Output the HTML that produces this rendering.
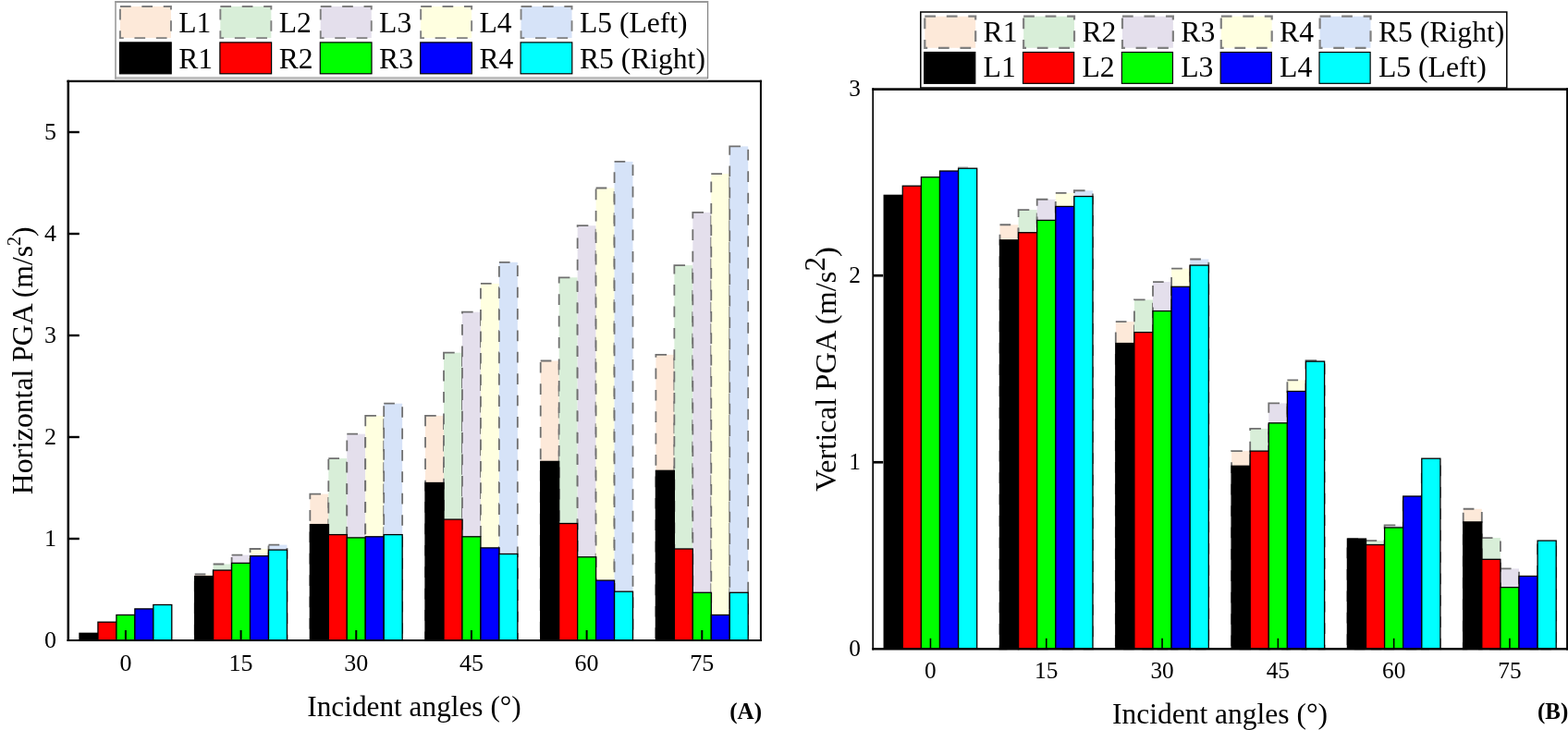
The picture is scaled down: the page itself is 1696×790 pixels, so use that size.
<!DOCTYPE html>
<html lang="en">
<head>
<meta charset="utf-8">
<title>PGA versus incident angles</title>
<style>
html,body{margin:0;padding:0;background:#fff;}
body{width:1696px;height:790px;overflow:hidden;font-family:"Liberation Serif", serif;}
svg{display:block;}
</style>
</head>
<body>
<svg width="1696" height="790" viewBox="0 0 1696 790" font-family="'Liberation Serif', serif" fill="#000">
<rect width="1696" height="790" fill="#fff"/>
<g>
<rect x="210.68" y="621.50" width="19.96" height="71.50" fill="#FDE9D9" stroke="#707070" stroke-width="1.8" stroke-dasharray="11.7 11.7"/>
<rect x="230.64" y="610.50" width="19.96" height="82.50" fill="#D8EED8" stroke="#707070" stroke-width="1.8" stroke-dasharray="11.7 11.7"/>
<rect x="250.60" y="600.60" width="19.96" height="92.40" fill="#E4DFEC" stroke="#707070" stroke-width="1.8" stroke-dasharray="11.7 11.7"/>
<rect x="270.56" y="594.00" width="19.96" height="99.00" fill="#FFFFE0" stroke="#707070" stroke-width="1.8" stroke-dasharray="11.7 11.7"/>
<rect x="290.52" y="589.60" width="19.96" height="103.40" fill="#D6E3F8" stroke="#707070" stroke-width="1.8" stroke-dasharray="11.7 11.7"/>
<rect x="335.36" y="534.60" width="19.96" height="158.40" fill="#FDE9D9" stroke="#707070" stroke-width="1.8" stroke-dasharray="11.7 11.7"/>
<rect x="355.32" y="496.10" width="19.96" height="196.90" fill="#D8EED8" stroke="#707070" stroke-width="1.8" stroke-dasharray="11.7 11.7"/>
<rect x="375.28" y="469.70" width="19.96" height="223.30" fill="#E4DFEC" stroke="#707070" stroke-width="1.8" stroke-dasharray="11.7 11.7"/>
<rect x="395.24" y="449.90" width="19.96" height="243.10" fill="#FFFFE0" stroke="#707070" stroke-width="1.8" stroke-dasharray="11.7 11.7"/>
<rect x="415.20" y="436.70" width="19.96" height="256.30" fill="#D6E3F8" stroke="#707070" stroke-width="1.8" stroke-dasharray="11.7 11.7"/>
<rect x="460.04" y="449.90" width="19.96" height="243.10" fill="#FDE9D9" stroke="#707070" stroke-width="1.8" stroke-dasharray="11.7 11.7"/>
<rect x="480.00" y="381.70" width="19.96" height="311.30" fill="#D8EED8" stroke="#707070" stroke-width="1.8" stroke-dasharray="11.7 11.7"/>
<rect x="499.96" y="337.70" width="19.96" height="355.30" fill="#E4DFEC" stroke="#707070" stroke-width="1.8" stroke-dasharray="11.7 11.7"/>
<rect x="519.92" y="306.90" width="19.96" height="386.10" fill="#FFFFE0" stroke="#707070" stroke-width="1.8" stroke-dasharray="11.7 11.7"/>
<rect x="539.88" y="283.80" width="19.96" height="409.20" fill="#D6E3F8" stroke="#707070" stroke-width="1.8" stroke-dasharray="11.7 11.7"/>
<rect x="584.72" y="390.50" width="19.96" height="302.50" fill="#FDE9D9" stroke="#707070" stroke-width="1.8" stroke-dasharray="11.7 11.7"/>
<rect x="604.68" y="300.30" width="19.96" height="392.70" fill="#D8EED8" stroke="#707070" stroke-width="1.8" stroke-dasharray="11.7 11.7"/>
<rect x="624.64" y="244.20" width="19.96" height="448.80" fill="#E4DFEC" stroke="#707070" stroke-width="1.8" stroke-dasharray="11.7 11.7"/>
<rect x="644.60" y="203.50" width="19.96" height="489.50" fill="#FFFFE0" stroke="#707070" stroke-width="1.8" stroke-dasharray="11.7 11.7"/>
<rect x="664.56" y="174.90" width="19.96" height="518.10" fill="#D6E3F8" stroke="#707070" stroke-width="1.8" stroke-dasharray="11.7 11.7"/>
<rect x="709.40" y="383.90" width="19.96" height="309.10" fill="#FDE9D9" stroke="#707070" stroke-width="1.8" stroke-dasharray="11.7 11.7"/>
<rect x="729.36" y="287.10" width="19.96" height="405.90" fill="#D8EED8" stroke="#707070" stroke-width="1.8" stroke-dasharray="11.7 11.7"/>
<rect x="749.32" y="229.90" width="19.96" height="463.10" fill="#E4DFEC" stroke="#707070" stroke-width="1.8" stroke-dasharray="11.7 11.7"/>
<rect x="769.28" y="188.10" width="19.96" height="504.90" fill="#FFFFE0" stroke="#707070" stroke-width="1.8" stroke-dasharray="11.7 11.7"/>
<rect x="789.24" y="158.40" width="19.96" height="534.60" fill="#D6E3F8" stroke="#707070" stroke-width="1.8" stroke-dasharray="11.7 11.7"/>
<rect x="86.00" y="685.30" width="19.96" height="7.70" fill="#000000" stroke="#000" stroke-width="1.3"/>
<rect x="105.96" y="673.20" width="19.96" height="19.80" fill="#FF0000" stroke="#000" stroke-width="1.3"/>
<rect x="125.92" y="665.50" width="19.96" height="27.50" fill="#00FF00" stroke="#000" stroke-width="1.3"/>
<rect x="145.88" y="658.90" width="19.96" height="34.10" fill="#0000FF" stroke="#000" stroke-width="1.3"/>
<rect x="165.84" y="654.50" width="19.96" height="38.50" fill="#00FFFF" stroke="#000" stroke-width="1.3"/>
<rect x="210.68" y="623.70" width="19.96" height="69.30" fill="#000000" stroke="#000" stroke-width="1.3"/>
<rect x="230.64" y="617.10" width="19.96" height="75.90" fill="#FF0000" stroke="#000" stroke-width="1.3"/>
<rect x="250.60" y="609.40" width="19.96" height="83.60" fill="#00FF00" stroke="#000" stroke-width="1.3"/>
<rect x="270.56" y="601.70" width="19.96" height="91.30" fill="#0000FF" stroke="#000" stroke-width="1.3"/>
<rect x="290.52" y="595.10" width="19.96" height="97.90" fill="#00FFFF" stroke="#000" stroke-width="1.3"/>
<rect x="335.36" y="567.60" width="19.96" height="125.40" fill="#000000" stroke="#000" stroke-width="1.3"/>
<rect x="355.32" y="578.60" width="19.96" height="114.40" fill="#FF0000" stroke="#000" stroke-width="1.3"/>
<rect x="375.28" y="581.90" width="19.96" height="111.10" fill="#00FF00" stroke="#000" stroke-width="1.3"/>
<rect x="395.24" y="580.80" width="19.96" height="112.20" fill="#0000FF" stroke="#000" stroke-width="1.3"/>
<rect x="415.20" y="578.60" width="19.96" height="114.40" fill="#00FFFF" stroke="#000" stroke-width="1.3"/>
<rect x="460.04" y="522.50" width="19.96" height="170.50" fill="#000000" stroke="#000" stroke-width="1.3"/>
<rect x="480.00" y="562.10" width="19.96" height="130.90" fill="#FF0000" stroke="#000" stroke-width="1.3"/>
<rect x="499.96" y="580.80" width="19.96" height="112.20" fill="#00FF00" stroke="#000" stroke-width="1.3"/>
<rect x="519.92" y="592.90" width="19.96" height="100.10" fill="#0000FF" stroke="#000" stroke-width="1.3"/>
<rect x="539.88" y="599.50" width="19.96" height="93.50" fill="#00FFFF" stroke="#000" stroke-width="1.3"/>
<rect x="584.72" y="499.40" width="19.96" height="193.60" fill="#000000" stroke="#000" stroke-width="1.3"/>
<rect x="604.68" y="566.50" width="19.96" height="126.50" fill="#FF0000" stroke="#000" stroke-width="1.3"/>
<rect x="624.64" y="602.80" width="19.96" height="90.20" fill="#00FF00" stroke="#000" stroke-width="1.3"/>
<rect x="644.60" y="628.10" width="19.96" height="64.90" fill="#0000FF" stroke="#000" stroke-width="1.3"/>
<rect x="664.56" y="640.20" width="19.96" height="52.80" fill="#00FFFF" stroke="#000" stroke-width="1.3"/>
<rect x="709.40" y="509.30" width="19.96" height="183.70" fill="#000000" stroke="#000" stroke-width="1.3"/>
<rect x="729.36" y="594.00" width="19.96" height="99.00" fill="#FF0000" stroke="#000" stroke-width="1.3"/>
<rect x="749.32" y="641.30" width="19.96" height="51.70" fill="#00FF00" stroke="#000" stroke-width="1.3"/>
<rect x="769.28" y="665.50" width="19.96" height="27.50" fill="#0000FF" stroke="#000" stroke-width="1.3"/>
<rect x="789.24" y="641.30" width="19.96" height="51.70" fill="#00FFFF" stroke="#000" stroke-width="1.3"/>
<rect x="72.55" y="86.75" width="2.5" height="607.25"/>
<rect x="72.55" y="86.75" width="751.35" height="2.3"/>
<rect x="72.55" y="692.00" width="751.35" height="2.0"/>
<rect x="821.90" y="86.75" width="2.0" height="607.25"/>
<text x="61" y="700.60" text-anchor="end" font-size="26">0</text>
<line x1="73.8" y1="583.00" x2="85.8" y2="583.00" stroke="#000" stroke-width="2.4"/>
<text x="61" y="590.60" text-anchor="end" font-size="26">1</text>
<line x1="73.8" y1="473.00" x2="85.8" y2="473.00" stroke="#000" stroke-width="2.4"/>
<text x="61" y="480.60" text-anchor="end" font-size="26">2</text>
<line x1="73.8" y1="363.00" x2="85.8" y2="363.00" stroke="#000" stroke-width="2.4"/>
<text x="61" y="370.60" text-anchor="end" font-size="26">3</text>
<line x1="73.8" y1="253.00" x2="85.8" y2="253.00" stroke="#000" stroke-width="2.4"/>
<text x="61" y="260.60" text-anchor="end" font-size="26">4</text>
<line x1="73.8" y1="143.00" x2="85.8" y2="143.00" stroke="#000" stroke-width="2.4"/>
<text x="61" y="150.60" text-anchor="end" font-size="26">5</text>
<line x1="135.90" y1="693.0" x2="135.90" y2="682.0" stroke="#000" stroke-width="2.0"/>
<text x="135.90" y="725.8" text-anchor="middle" font-size="26">0</text>
<line x1="260.58" y1="693.0" x2="260.58" y2="682.0" stroke="#000" stroke-width="2.0"/>
<text x="260.58" y="725.8" text-anchor="middle" font-size="26">15</text>
<line x1="385.26" y1="693.0" x2="385.26" y2="682.0" stroke="#000" stroke-width="2.0"/>
<text x="385.26" y="725.8" text-anchor="middle" font-size="26">30</text>
<line x1="509.94" y1="693.0" x2="509.94" y2="682.0" stroke="#000" stroke-width="2.0"/>
<text x="509.94" y="725.8" text-anchor="middle" font-size="26">45</text>
<line x1="634.62" y1="693.0" x2="634.62" y2="682.0" stroke="#000" stroke-width="2.0"/>
<text x="634.62" y="725.8" text-anchor="middle" font-size="26">60</text>
<line x1="759.30" y1="693.0" x2="759.30" y2="682.0" stroke="#000" stroke-width="2.0"/>
<text x="759.30" y="725.8" text-anchor="middle" font-size="26">75</text>
<text x="448" y="774.5" text-anchor="middle" font-size="31.3">Incident angles (°)</text>
<text transform="translate(35.2,390.3) rotate(-90)" text-anchor="middle" font-size="31.7">Horizontal PGA (m/s<tspan font-size="20" dy="-13.5">2</tspan><tspan dy="13.5">)</tspan></text>
<text x="789.3" y="777.5" font-weight="bold" font-size="25">(A)</text>
<rect x="124.1" y="1.0" width="642.10" height="85.80" rx="1.5" fill="#fff"/>
<rect x="124.1" y="83.0" width="641.50" height="3.8" rx="1" fill="#c0c0c0"/>
<rect x="124.1" y="1.0" width="1.8" height="84.5" rx="0.8" fill="#a6a6a6"/>
<rect x="764.9" y="1.0" width="1.3" height="84.0" fill="#858585"/>
<rect x="124.1" y="1.0" width="642.10" height="2.0" rx="0.8" fill="#989898"/>
<rect x="129.95" y="6.95" width="55.00" height="34.20" fill="#FDE9D9" stroke="#808080" stroke-width="1.9" stroke-dasharray="11.7 11.7"/>
<text x="193.30" y="35" font-size="31.6">L1</text>
<rect x="238.35" y="6.95" width="55.00" height="34.20" fill="#D8EED8" stroke="#808080" stroke-width="1.9" stroke-dasharray="11.7 11.7"/>
<text x="301.70" y="35" font-size="31.6">L2</text>
<rect x="346.75" y="6.95" width="55.00" height="34.20" fill="#E4DFEC" stroke="#808080" stroke-width="1.9" stroke-dasharray="11.7 11.7"/>
<text x="410.10" y="35" font-size="31.6">L3</text>
<rect x="455.15" y="6.95" width="55.00" height="34.20" fill="#FFFFE0" stroke="#808080" stroke-width="1.9" stroke-dasharray="11.7 11.7"/>
<text x="518.50" y="35" font-size="31.6">L4</text>
<rect x="563.55" y="6.95" width="55.00" height="34.20" fill="#D6E3F8" stroke="#808080" stroke-width="1.9" stroke-dasharray="11.7 11.7"/>
<text x="626.90" y="35" font-size="31.6">L5 (Left)</text>
<rect x="129.50" y="45.90" width="55.70" height="33.90" fill="#000000" stroke="#000" stroke-width="1.2"/>
<text x="193.30" y="73.5" font-size="31.6">R1</text>
<rect x="237.90" y="45.90" width="55.70" height="33.90" fill="#FF0000" stroke="#000" stroke-width="1.2"/>
<text x="301.70" y="73.5" font-size="31.6">R2</text>
<rect x="346.30" y="45.90" width="55.70" height="33.90" fill="#00FF00" stroke="#000" stroke-width="1.2"/>
<text x="410.10" y="73.5" font-size="31.6">R3</text>
<rect x="454.70" y="45.90" width="55.70" height="33.90" fill="#0000FF" stroke="#000" stroke-width="1.2"/>
<text x="518.50" y="73.5" font-size="31.6">R4</text>
<rect x="563.10" y="45.90" width="55.70" height="33.90" fill="#00FFFF" stroke="#000" stroke-width="1.2"/>
<text x="626.90" y="73.5" font-size="31.6">R5 (Right)</text>
</g>
<g>
<rect x="1081.50" y="243.24" width="20.10" height="459.06" fill="#FDE9D9" stroke="#707070" stroke-width="1.8" stroke-dasharray="11.7 11.7"/>
<rect x="1101.60" y="227.08" width="20.10" height="475.22" fill="#D8EED8" stroke="#707070" stroke-width="1.8" stroke-dasharray="11.7 11.7"/>
<rect x="1121.70" y="215.76" width="20.10" height="486.54" fill="#E4DFEC" stroke="#707070" stroke-width="1.8" stroke-dasharray="11.7 11.7"/>
<rect x="1141.80" y="208.89" width="20.10" height="493.41" fill="#FFFFE0" stroke="#707070" stroke-width="1.8" stroke-dasharray="11.7 11.7"/>
<rect x="1161.90" y="206.27" width="20.10" height="496.03" fill="#D6E3F8" stroke="#707070" stroke-width="1.8" stroke-dasharray="11.7 11.7"/>
<rect x="1206.80" y="348.11" width="20.10" height="354.19" fill="#FDE9D9" stroke="#707070" stroke-width="1.8" stroke-dasharray="11.7 11.7"/>
<rect x="1226.90" y="324.47" width="20.10" height="377.83" fill="#D8EED8" stroke="#707070" stroke-width="1.8" stroke-dasharray="11.7 11.7"/>
<rect x="1247.00" y="305.07" width="20.10" height="397.23" fill="#E4DFEC" stroke="#707070" stroke-width="1.8" stroke-dasharray="11.7 11.7"/>
<rect x="1267.10" y="290.62" width="20.10" height="411.68" fill="#FFFFE0" stroke="#707070" stroke-width="1.8" stroke-dasharray="11.7 11.7"/>
<rect x="1287.20" y="280.52" width="20.10" height="421.78" fill="#D6E3F8" stroke="#707070" stroke-width="1.8" stroke-dasharray="11.7 11.7"/>
<rect x="1332.10" y="488.13" width="20.10" height="214.17" fill="#FDE9D9" stroke="#707070" stroke-width="1.8" stroke-dasharray="11.7 11.7"/>
<rect x="1352.20" y="463.88" width="20.10" height="238.42" fill="#D8EED8" stroke="#707070" stroke-width="1.8" stroke-dasharray="11.7 11.7"/>
<rect x="1372.30" y="436.40" width="20.10" height="265.90" fill="#E4DFEC" stroke="#707070" stroke-width="1.8" stroke-dasharray="11.7 11.7"/>
<rect x="1392.40" y="411.35" width="20.10" height="290.95" fill="#FFFFE0" stroke="#707070" stroke-width="1.8" stroke-dasharray="11.7 11.7"/>
<rect x="1412.50" y="390.13" width="20.10" height="312.17" fill="#D6E3F8" stroke="#707070" stroke-width="1.8" stroke-dasharray="11.7 11.7"/>
<rect x="1457.40" y="583.09" width="20.10" height="119.21" fill="#FDE9D9" stroke="#707070" stroke-width="1.8" stroke-dasharray="11.7 11.7"/>
<rect x="1477.50" y="585.11" width="20.10" height="117.19" fill="#D8EED8" stroke="#707070" stroke-width="1.8" stroke-dasharray="11.7 11.7"/>
<rect x="1497.60" y="568.34" width="20.10" height="133.96" fill="#E4DFEC" stroke="#707070" stroke-width="1.8" stroke-dasharray="11.7 11.7"/>
<rect x="1517.70" y="540.66" width="20.10" height="161.64" fill="#FFFFE0" stroke="#707070" stroke-width="1.8" stroke-dasharray="11.7 11.7"/>
<rect x="1537.80" y="500.25" width="20.10" height="202.05" fill="#D6E3F8" stroke="#707070" stroke-width="1.8" stroke-dasharray="11.7 11.7"/>
<rect x="1582.70" y="550.76" width="20.10" height="151.54" fill="#FDE9D9" stroke="#707070" stroke-width="1.8" stroke-dasharray="11.7 11.7"/>
<rect x="1602.80" y="582.08" width="20.10" height="120.22" fill="#D8EED8" stroke="#707070" stroke-width="1.8" stroke-dasharray="11.7 11.7"/>
<rect x="1622.90" y="615.42" width="20.10" height="86.88" fill="#E4DFEC" stroke="#707070" stroke-width="1.8" stroke-dasharray="11.7 11.7"/>
<rect x="1643.00" y="625.52" width="20.10" height="76.78" fill="#FFFFE0" stroke="#707070" stroke-width="1.8" stroke-dasharray="11.7 11.7"/>
<rect x="1663.10" y="587.13" width="20.10" height="115.17" fill="#D6E3F8" stroke="#707070" stroke-width="1.8" stroke-dasharray="11.7 11.7"/>
<rect x="956.20" y="211.32" width="20.10" height="490.98" fill="#000000" stroke="#000" stroke-width="1.3"/>
<rect x="976.30" y="201.22" width="20.10" height="501.08" fill="#FF0000" stroke="#000" stroke-width="1.3"/>
<rect x="996.40" y="191.72" width="20.10" height="510.58" fill="#00FF00" stroke="#000" stroke-width="1.3"/>
<rect x="1016.50" y="185.05" width="20.10" height="517.25" fill="#0000FF" stroke="#000" stroke-width="1.3"/>
<rect x="1036.60" y="182.22" width="20.10" height="520.08" fill="#00FFFF" stroke="#000" stroke-width="1.3"/>
<rect x="1081.50" y="259.81" width="20.10" height="442.49" fill="#000000" stroke="#000" stroke-width="1.3"/>
<rect x="1101.60" y="251.73" width="20.10" height="450.57" fill="#FF0000" stroke="#000" stroke-width="1.3"/>
<rect x="1121.70" y="238.39" width="20.10" height="463.91" fill="#00FF00" stroke="#000" stroke-width="1.3"/>
<rect x="1141.80" y="223.44" width="20.10" height="478.86" fill="#0000FF" stroke="#000" stroke-width="1.3"/>
<rect x="1161.90" y="212.53" width="20.10" height="489.77" fill="#00FFFF" stroke="#000" stroke-width="1.3"/>
<rect x="1206.80" y="371.54" width="20.10" height="330.76" fill="#000000" stroke="#000" stroke-width="1.3"/>
<rect x="1226.90" y="359.62" width="20.10" height="342.68" fill="#FF0000" stroke="#000" stroke-width="1.3"/>
<rect x="1247.00" y="336.59" width="20.10" height="365.71" fill="#00FF00" stroke="#000" stroke-width="1.3"/>
<rect x="1267.10" y="310.32" width="20.10" height="391.98" fill="#0000FF" stroke="#000" stroke-width="1.3"/>
<rect x="1287.20" y="287.09" width="20.10" height="415.21" fill="#00FFFF" stroke="#000" stroke-width="1.3"/>
<rect x="1332.10" y="504.29" width="20.10" height="198.01" fill="#000000" stroke="#000" stroke-width="1.3"/>
<rect x="1352.20" y="488.13" width="20.10" height="214.17" fill="#FF0000" stroke="#000" stroke-width="1.3"/>
<rect x="1372.30" y="457.82" width="20.10" height="244.48" fill="#00FF00" stroke="#000" stroke-width="1.3"/>
<rect x="1392.40" y="423.47" width="20.10" height="278.83" fill="#0000FF" stroke="#000" stroke-width="1.3"/>
<rect x="1412.50" y="391.14" width="20.10" height="311.16" fill="#00FFFF" stroke="#000" stroke-width="1.3"/>
<rect x="1457.40" y="583.09" width="20.10" height="119.21" fill="#000000" stroke="#000" stroke-width="1.3"/>
<rect x="1477.50" y="589.56" width="20.10" height="112.74" fill="#FF0000" stroke="#000" stroke-width="1.3"/>
<rect x="1497.60" y="570.97" width="20.10" height="131.33" fill="#00FF00" stroke="#000" stroke-width="1.3"/>
<rect x="1517.70" y="537.02" width="20.10" height="165.28" fill="#0000FF" stroke="#000" stroke-width="1.3"/>
<rect x="1537.80" y="496.21" width="20.10" height="206.09" fill="#00FFFF" stroke="#000" stroke-width="1.3"/>
<rect x="1582.70" y="564.91" width="20.10" height="137.39" fill="#000000" stroke="#000" stroke-width="1.3"/>
<rect x="1602.80" y="605.32" width="20.10" height="96.98" fill="#FF0000" stroke="#000" stroke-width="1.3"/>
<rect x="1622.90" y="635.62" width="20.10" height="66.68" fill="#00FF00" stroke="#000" stroke-width="1.3"/>
<rect x="1643.00" y="623.50" width="20.10" height="78.80" fill="#0000FF" stroke="#000" stroke-width="1.3"/>
<rect x="1663.10" y="585.11" width="20.10" height="117.19" fill="#00FFFF" stroke="#000" stroke-width="1.3"/>
<line x1="1036.00" y1="181.21" x2="1047.10" y2="181.21" stroke="#666" stroke-width="1"/>
<rect x="943.35" y="95.30" width="1.7" height="608.20"/>
<rect x="943.35" y="95.30" width="752.95" height="2.6"/>
<rect x="943.35" y="701.10" width="752.95" height="2.4"/>
<rect x="1694.10" y="95.30" width="2.2" height="608.20"/>
<text x="931.0" y="709.70" text-anchor="end" font-size="25.3">0</text>
<line x1="944.2" y1="500.25" x2="955.2" y2="500.25" stroke="#000" stroke-width="2.7"/>
<text x="931.0" y="507.65" text-anchor="end" font-size="25.3">1</text>
<line x1="944.2" y1="298.20" x2="955.2" y2="298.20" stroke="#000" stroke-width="2.7"/>
<text x="931.0" y="305.60" text-anchor="end" font-size="25.3">2</text>
<text x="931.0" y="103.55" text-anchor="end" font-size="25.3">3</text>
<line x1="1006.45" y1="702.3" x2="1006.45" y2="690.8" stroke="#000" stroke-width="1.6"/>
<text x="1006.45" y="734.3" text-anchor="middle" font-size="25.3">0</text>
<line x1="1131.75" y1="702.3" x2="1131.75" y2="690.8" stroke="#000" stroke-width="1.6"/>
<text x="1131.75" y="734.3" text-anchor="middle" font-size="25.3">15</text>
<line x1="1257.05" y1="702.3" x2="1257.05" y2="690.8" stroke="#000" stroke-width="1.6"/>
<text x="1257.05" y="734.3" text-anchor="middle" font-size="25.3">30</text>
<line x1="1382.35" y1="702.3" x2="1382.35" y2="690.8" stroke="#000" stroke-width="1.6"/>
<text x="1382.35" y="734.3" text-anchor="middle" font-size="25.3">45</text>
<line x1="1507.65" y1="702.3" x2="1507.65" y2="690.8" stroke="#000" stroke-width="1.6"/>
<text x="1507.65" y="734.3" text-anchor="middle" font-size="25.3">60</text>
<line x1="1632.95" y1="702.3" x2="1632.95" y2="690.8" stroke="#000" stroke-width="1.6"/>
<text x="1632.95" y="734.3" text-anchor="middle" font-size="25.3">75</text>
<text x="1319.5" y="782.8" text-anchor="middle" font-size="31.5">Incident angles (°)</text>
<text transform="translate(903.9,399.5) rotate(-90)" text-anchor="middle" font-size="32.5">Vertical PGA (m/s<tspan font-size="31" dy="-11.5">2</tspan><tspan dy="11.5">)</tspan></text>
<text x="1663.0" y="777.7" font-weight="bold" font-size="25">(B)</text>
<rect x="995.8" y="13" width="634" height="82" fill="#fff" stroke="#000" stroke-width="1.5"/>
<rect x="1000.30" y="17.70" width="54.90" height="34.10" fill="#FDE9D9" stroke="#808080" stroke-width="2.2" stroke-dasharray="11.75 11.75"/>
<text x="1063.60" y="44.7" font-size="31.7">R1</text>
<rect x="1107.13" y="17.70" width="54.90" height="34.10" fill="#D8EED8" stroke="#808080" stroke-width="2.2" stroke-dasharray="11.75 11.75"/>
<text x="1170.43" y="44.7" font-size="31.7">R2</text>
<rect x="1213.96" y="17.70" width="54.90" height="34.10" fill="#E4DFEC" stroke="#808080" stroke-width="2.2" stroke-dasharray="11.75 11.75"/>
<text x="1277.26" y="44.7" font-size="31.7">R3</text>
<rect x="1320.79" y="17.70" width="54.90" height="34.10" fill="#FFFFE0" stroke="#808080" stroke-width="2.2" stroke-dasharray="11.75 11.75"/>
<text x="1384.09" y="44.7" font-size="31.7">R4</text>
<rect x="1427.62" y="17.70" width="54.90" height="34.10" fill="#D6E3F8" stroke="#808080" stroke-width="2.2" stroke-dasharray="11.75 11.75"/>
<text x="1490.92" y="44.7" font-size="31.7">R5 (Right)</text>
<rect x="999.70" y="56.50" width="55.10" height="33.80" fill="#000000" stroke="#000" stroke-width="1.2"/>
<text x="1063.60" y="83.4" font-size="31.7">L1</text>
<rect x="1106.53" y="56.50" width="55.10" height="33.80" fill="#FF0000" stroke="#000" stroke-width="1.2"/>
<text x="1170.43" y="83.4" font-size="31.7">L2</text>
<rect x="1213.36" y="56.50" width="55.10" height="33.80" fill="#00FF00" stroke="#000" stroke-width="1.2"/>
<text x="1277.26" y="83.4" font-size="31.7">L3</text>
<rect x="1320.19" y="56.50" width="55.10" height="33.80" fill="#0000FF" stroke="#000" stroke-width="1.2"/>
<text x="1384.09" y="83.4" font-size="31.7">L4</text>
<rect x="1427.02" y="56.50" width="55.10" height="33.80" fill="#00FFFF" stroke="#000" stroke-width="1.2"/>
<text x="1490.92" y="83.4" font-size="31.7">L5 (Left)</text>
</g>
</svg>
</body>
</html>
